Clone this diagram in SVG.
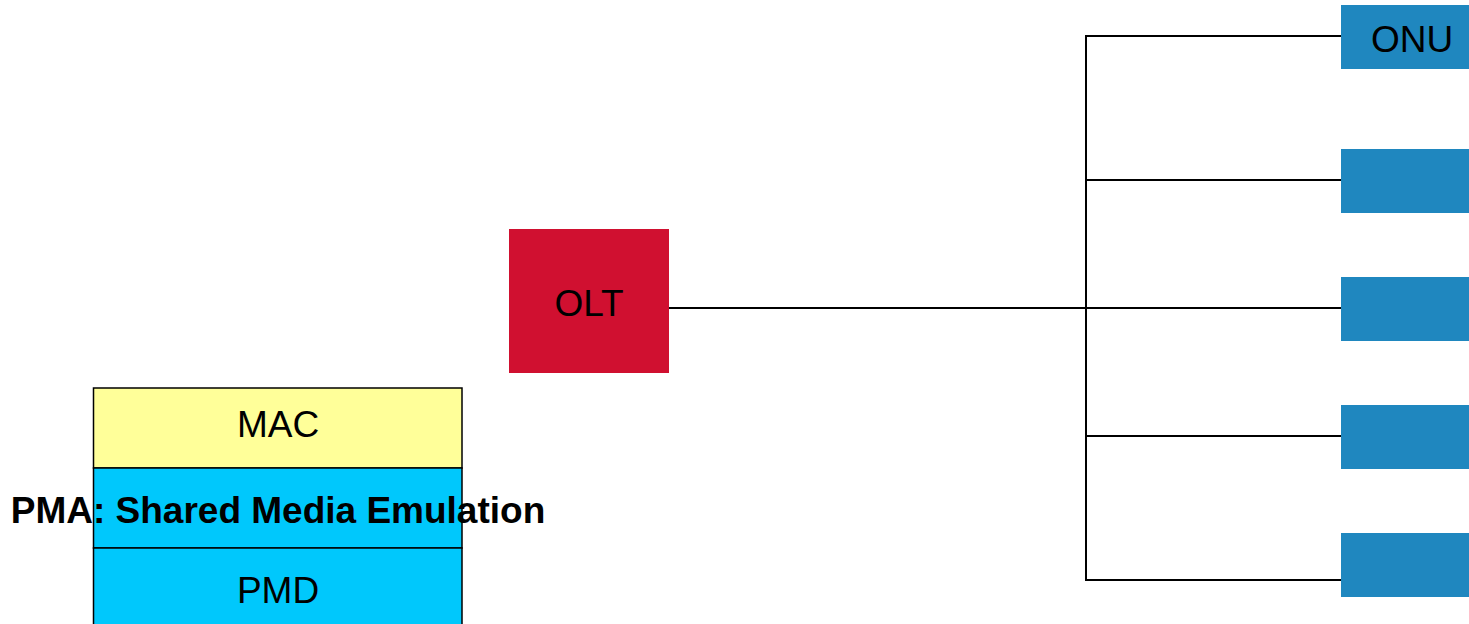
<svg xmlns="http://www.w3.org/2000/svg" width="1469" height="624" viewBox="0 0 1469 624">
<style>
  text { font-family: "Liberation Sans", Arial, sans-serif; font-size: 37px; fill: #000; text-anchor: middle; }
  .bold { font-weight: bold; }
  .onu { fill: #1f87bf; }
  .layer { stroke: #000; stroke-width: 1.5; }
  .wire { stroke: #000; stroke-width: 2; fill: none; }
</style>
<rect width="1469" height="624" fill="#fff"/>
<g id="connectors">
  <line class="wire" x1="669" y1="308" x2="1086" y2="308"/>
  <line class="wire" x1="1086" y1="36" x2="1086" y2="580"/>
  <line class="wire" x1="1085" y1="36" x2="1341" y2="36"/>
  <line class="wire" x1="1085" y1="180" x2="1341" y2="180"/>
  <line class="wire" x1="1086" y1="308" x2="1341" y2="308"/>
  <line class="wire" x1="1085" y1="436" x2="1341" y2="436"/>
  <line class="wire" x1="1085" y1="580" x2="1341" y2="580"/>
</g>
<g id="olt">
  <rect x="509" y="229" width="160" height="144" fill="#d01030"/>
  <text x="589" y="316">OLT</text>
</g>
<g id="onu1">
  <rect class="onu" x="1341" y="5" width="130" height="64"/>
  <text x="1412" y="52">ONU</text>
</g>
<g id="onu2"><rect class="onu" x="1341" y="149" width="130" height="64"/></g>
<g id="onu3"><rect class="onu" x="1341" y="277" width="130" height="64"/></g>
<g id="onu4"><rect class="onu" x="1341" y="405" width="130" height="64"/></g>
<g id="onu5"><rect class="onu" x="1341" y="533" width="130" height="64"/></g>
<g id="mac">
  <rect class="layer" x="93.5" y="388" width="368.5" height="80" fill="#ffff99"/>
  <text x="278" y="437">MAC</text>
</g>
<g id="pma">
  <rect class="layer" x="93.5" y="468" width="368.5" height="80" fill="#00c8fc"/>
  <text class="bold" x="278" y="523">PMA: Shared Media Emulation</text>
</g>
<g id="pmd">
  <rect class="layer" x="93.5" y="548" width="368.5" height="84" fill="#00c8fc"/>
  <text x="278" y="603">PMD</text>
</g>
</svg>
